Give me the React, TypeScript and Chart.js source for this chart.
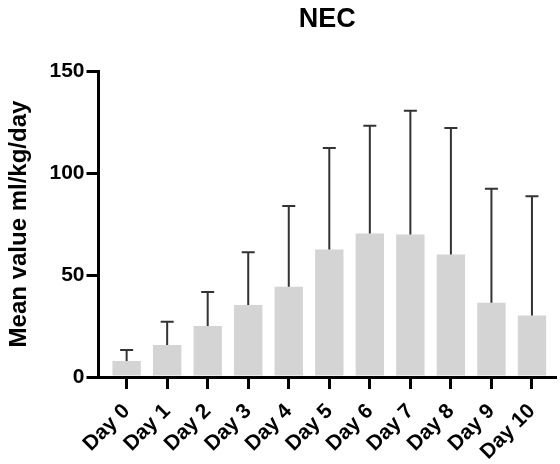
import React, { useEffect, useRef } from "react";
import { Chart, registerables } from "chart.js";

Chart.register(...registerables);

const dayLabels = ["Day 0", "Day 1", "Day 2", "Day 3", "Day 4", "Day 5", "Day 6", "Day 7", "Day 8", "Day 9", "Day 10"];
const meanValues = [7.8, 15.7, 25.0, 35.3, 44.3, 62.5, 70.4, 69.9, 60.1, 36.4, 30.2];
const sdValues = [5.4, 11.4, 16.7, 25.8, 39.5, 49.8, 52.8, 60.6, 61.9, 55.9, 58.4];
const yTicks = [0, 50, 100, 150];

const FONT = "'Liberation Sans', Arial, Helvetica, sans-serif";

const errorBarPlugin = {
  id: "errorBars",
  afterDatasetsDraw(chart: any) {
    const { ctx } = chart;
    const xs = chart.scales.x;
    const ys = chart.scales.y;
    ctx.save();
    ctx.strokeStyle = "#333333";
    ctx.lineWidth = 2;
    meanValues.forEach((m, i) => {
      const x = xs.getPixelForValue(i);
      const yb = ys.getPixelForValue(m);
      const yt = ys.getPixelForValue(m + sdValues[i]);
      ctx.beginPath();
      ctx.moveTo(x, yb);
      ctx.lineTo(x, yt);
      ctx.moveTo(x - 6.5, yt);
      ctx.lineTo(x + 6.5, yt);
      ctx.stroke();
    });
    ctx.restore();
  },
};

export default function App() {
  const ref = useRef<HTMLCanvasElement | null>(null);
  useEffect(() => {
    if (!ref.current) return;
    const chart = new Chart(ref.current, {
      type: "bar",
      data: {
        datasets: [
          {
            data: meanValues.map((v, i) => ({ x: i, y: v })),
            backgroundColor: "#d4d4d4",
            borderWidth: 0,
            barPercentage: 0.7,
            categoryPercentage: 1,
          },
        ],
      },
      options: {
        responsive: false,
        animation: false,
        layout: { padding: { top: 3, left: 6, right: 3, bottom: 0 } },
        plugins: {
          legend: { display: false },
          tooltip: { enabled: false },
          title: {
            display: true,
            text: "NEC",
            fullSize: false,
            color: "#000",
            font: { family: FONT, size: 27, weight: "bold", lineHeight: 1.2 },
            padding: { top: 0, bottom: 35.6 },
          },
        },
        scales: {
          x: {
            type: "linear",
            offset: false,
            min: -0.694,
            max: 10.59,
            z: 1,
            afterBuildTicks: (scale: any) => {
              scale.ticks = dayLabels.map((_, i) => ({ value: i }));
            },
            afterFit: (scale: any) => {
              scale.height = 87;
            },
            grid: {
              offset: false,
              drawOnChartArea: false,
              drawTicks: true,
              tickLength: 12,
              color: "#000",
              lineWidth: 3,
            },
            border: { display: true, color: "#000", width: 3 },
            ticks: {
              minRotation: 45,
              maxRotation: 45,
              padding: 10,
              color: "#000",
              font: { family: FONT, size: 21, weight: "bold" },
              callback: (v: any) => dayLabels[v] ?? "",
            },
          },
          y: {
            type: "linear",
            min: 0,
            max: 150,
            z: 1,
            afterBuildTicks: (scale: any) => {
              scale.ticks = yTicks.map((v) => ({ value: v }));
            },
            afterFit: (scale: any) => {
              scale.width = 92.5;
            },
            grid: {
              drawOnChartArea: false,
              drawTicks: true,
              tickLength: 12,
              color: "#000",
              lineWidth: 3,
            },
            border: { display: true, color: "#000", width: 3 },
            ticks: {
              padding: 2,
              color: "#000",
              font: { family: FONT, size: 21, weight: "bold" },
            },
            title: {
              display: true,
              text: "Mean value ml/kg/day",
              color: "#000",
              font: { family: FONT, size: 24, weight: "bold", lineHeight: 1 },
              padding: { top: 1, bottom: 0 },
            },
          },
        },
      },
      plugins: [errorBarPlugin],
    } as any);
    return () => chart.destroy();
  }, []);
  return (
    <div style={{ position: "fixed", left: 0, top: 0, width: 560, height: 464, background: "#fff" }}>
      <canvas ref={ref} width={560} height={464} style={{ display: "block" }} />
    </div>
  );
}
